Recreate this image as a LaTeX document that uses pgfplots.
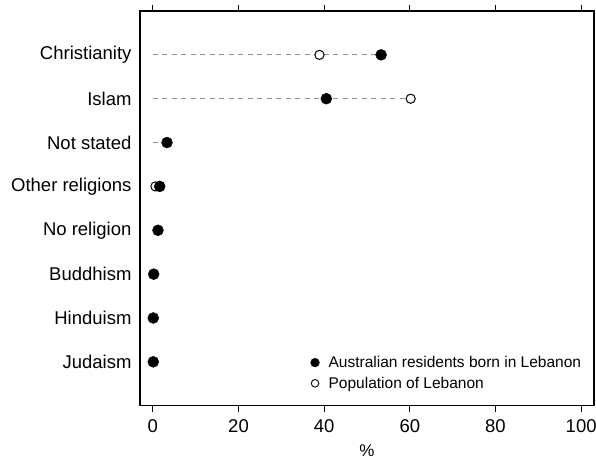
\documentclass[border=0pt]{standalone}
\usepackage{fontspec}
\setmainfont{Liberation Sans}
\usepackage{pgfplots}
\pgfplotsset{compat=1.18}
\definecolor{dashgray}{RGB}{145,145,145}
\begin{document}
\begin{tikzpicture}
\begin{axis}[
  scale only axis, width=454pt, height=394.7pt,
  xmin=-3, xmax=103, ymin=0, ymax=9,
  xtick={0,20,40,60,80,100},
  xtick pos=both, xticklabel pos=lower,
  tick align=outside, major tick length=6pt,
  ytick={1,2,3,4,5,6,7,8},
  yticklabels={Judaism,Hinduism,Buddhism,No religion,Other religions,Not stated,Islam,Christianity},
  ytick style={draw=none},
  yticklabel style={xshift=1pt},
  xticklabel style={yshift=-4pt},
  axis line style={line width=1.1pt},
  xtick style={line width=1.1pt, black},
  tick label style={font=\fontsize{18.5}{20}\selectfont},
  /pgf/number format/assume math mode=true,
  xlabel={\%}, xlabel style={font=\fontsize{17}{18}\selectfont, yshift=-6pt},
  unbounded coords=jump,
  legend style={draw=none, fill=none, at={(0.375,0.035)}, anchor=south west,
    font=\fontsize{15.5}{16}\selectfont, row sep=4pt, inner sep=0pt,
    /tikz/every odd column/.append style={column sep=7pt}},
  legend cell align=left,
  reverse legend,
]
\addplot[dashgray, line width=0.9pt, dash pattern=on 5pt off 4.5pt, forget plot] coordinates {
 (0,8) (53.3,8) (nan,nan)
 (0,7) (60.2,7) (nan,nan)
 (0,6) (3.3,6) (nan,nan)
 (0,5) (1.6,5) (nan,nan)
 (0,4) (1.2,4)
};
\addplot[only marks, mark=*, mark size=4.6pt, mark options={fill=white, draw=black, line width=1pt},
  legend image code/.code={\draw[black, fill=white, line width=0.9pt] (0.25em,0) circle (3.8pt);}]
 coordinates {(38.9,8) (60.2,7) (0.6,5)};
\addlegendentry{Population of Lebanon}
\addplot[only marks, mark=*, mark size=5.5pt, mark options={fill=black, draw=black},
  legend image code/.code={\fill[black] (0.25em,0) circle (4.4pt);}]
 coordinates {(53.3,8) (40.5,7) (3.3,6) (1.6,5) (1.2,4) (0.2,3) (0.1,2) (0.1,1)};
\addlegendentry{Australian residents born in Lebanon}
\end{axis}
\pgfresetboundingbox
\useasboundingbox (-140pt,-57.3pt) rectangle (456pt,405.7pt);
\end{tikzpicture}
\end{document}
